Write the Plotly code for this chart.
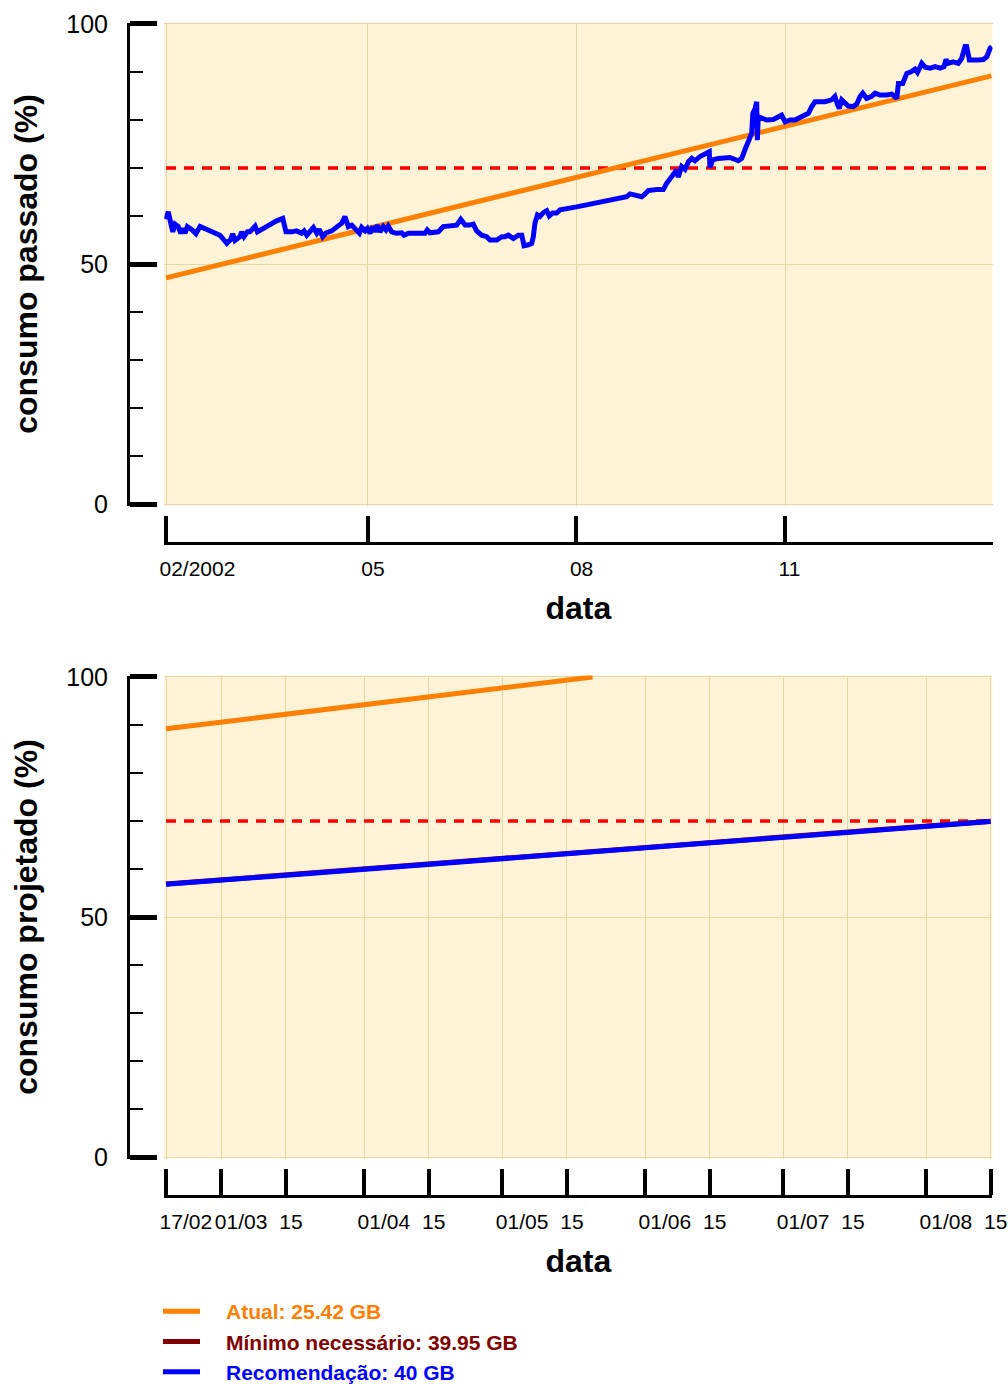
import pandas as pd
import plotly.graph_objects as go

W, H = 1008, 1385
FONT = "Liberation Sans, Arial, Helvetica, sans-serif"

# ---------------- data: past consumption (top chart) ----------------
past_start = "2002-02-01"
past_day = [0, 1.0, 2.1, 3.0, 4.0, 5.4, 6.5, 7.4, 8.4, 9.4, 11.3, 13.2, 15.0, 19.4, 23.8,
            26.8, 28.5, 29.4, 30.4, 32.6, 33.4, 34.4, 35.9, 37.0, 39.3, 40.3, 42.2, 44.4,
            46.6, 48.8, 51.5, 52.9, 55.4, 57.6, 59.8, 60.9, 62.1, 63.5, 65.0, 66.5, 67.6,
            69.1, 70.6, 73.1, 74.5, 75.3, 77.5, 78.9, 80.4, 81.9, 83.8, 85.3, 86.3, 87.8,
            88.8, 90.0, 91.2, 92.2, 93.2, 94.4, 95.8, 97.0, 98.0, 99.5, 101.7, 104.0, 105.0,
            106.9, 114.2, 115.2, 116.4, 120.1, 122.3, 126.7, 128.2, 130.0, 131.9, 133.8,
            135.5, 137.0, 139.2, 141.4, 142.9, 145.9, 148.1, 149.5, 151.0, 153.2, 155.4,
            156.9, 157.9, 159.8, 161.3, 162.0, 162.7, 163.8, 164.9, 166.4, 167.9, 169.0,
            170.5, 172.3, 173.8, 181.1, 191.4, 203.2, 204.6, 206.8, 209.8, 211.3, 212.7,
            216.4, 219.3, 220.8, 222.3, 223.7, 225.2, 225.9, 227.4, 228.9, 230.4, 231.9,
            233.3, 235.5, 237.0, 238.5, 239.6, 239.9, 241.1, 243.6, 246.5, 248.7, 252.4,
            253.9, 255.4, 256.8, 258.3, 258.8, 259.8, 260.5, 260.8, 261.2, 262.7, 264.9,
            267.8, 270.0, 271.5, 273.0, 275.2, 277.4, 278.9, 281.1, 283.3, 284.8, 286.2,
            288.4, 290.6, 293.6, 295.0, 296.1, 296.9, 298.0, 299.5, 300.9, 303.1, 304.6,
            306.1, 307.3, 309.0, 311.2, 312.7, 314.9, 317.9, 320.1, 322.3, 323.0, 324.9,
            326.7, 328.4, 330.3, 331.4, 333.3, 334.8, 337.0, 339.2, 341.4, 343.1, 344.0,
            345.0, 347.2, 349.4, 350.9, 352.4, 353.1, 354.3, 356.0, 358.2, 360.5, 362.0,
            363.4, 364.2]
past_recomendacao = [59.3, 60.9, 58.5, 56.7, 58.3, 57.8, 56.4, 57.4, 56.4, 57.8, 57.2, 56.3,
                     57.8, 56.9, 56.0, 54.3, 55.1, 56.3, 54.9, 55.7, 56.7, 55.7, 56.7, 56.7,
                     57.9, 56.7, 57.2, 57.8, 58.6, 59.0, 59.5, 56.7, 56.7, 56.9, 56.4, 56.9,
                     56.0, 56.7, 57.6, 56.4, 57.2, 55.7, 56.5, 56.9, 57.4, 57.9, 58.5, 59.9,
                     57.8, 58.1, 57.1, 56.4, 57.6, 56.9, 57.4, 56.4, 57.8, 56.7, 58.1, 56.7,
                     57.8, 57.1, 57.9, 56.7, 56.4, 56.5, 56.0, 56.4, 56.4, 57.1, 56.5, 56.7,
                     57.8, 57.9, 58.1, 59.3, 58.1, 58.1, 58.3, 56.9, 56.0, 55.7, 55.0, 55.0,
                     55.7, 55.7, 56.0, 55.3, 56.0, 56.0, 53.8, 54.0, 54.3, 55.7, 58.5, 60.2,
                     59.9, 60.7, 61.1, 60.0, 60.6, 60.6, 61.3, 61.9, 62.9, 64.0, 64.6, 64.4,
                     64.0, 64.6, 65.3, 65.5, 65.5, 66.8, 67.8, 68.5, 69.6, 68.1, 70.3, 69.7,
                     71.3, 72.0, 71.5, 72.4, 72.7, 72.9, 73.4, 70.1, 71.7, 72.0, 72.0, 72.2,
                     71.5, 72.0, 73.9, 75.5, 77.2, 81.4, 82.4, 83.8, 75.8, 80.7, 80.3, 80.0,
                     80.1, 80.6, 81.0, 79.6, 80.0, 80.0, 80.3, 80.7, 81.4, 82.8, 83.8, 83.8,
                     83.8, 84.2, 84.9, 83.3, 82.4, 84.2, 83.6, 82.9, 82.8, 83.3, 84.9, 85.6,
                     84.5, 84.9, 85.6, 85.2, 85.2, 85.4, 84.5, 87.6, 87.6, 89.7, 90.0, 90.6,
                     89.9, 91.8, 91.0, 90.8, 91.1, 90.8, 91.1, 92.6, 91.8, 92.1, 91.8, 92.8,
                     95.3, 95.3, 92.5, 92.6, 92.5, 92.6, 93.2, 94.9, 95.3]
past_atual_dates = ["2002-02-01", "2003-01-31"]
past_atual = [47.1, 89.2]
limite = 70
past_limit_dates = ["2002-02-01", "2003-01-31"]
past_range = ["2002-01-31 06:00", "2003-01-31 12:00"]
past_tickvals = ["2002-02-01", "2002-05-01", "2002-08-01", "2002-11-01"]
past_ticktext = ["02/2002", "05", "08", "11"]

# ---------------- data: projected consumption (bottom chart) ----------------
proj_atual_dates = ["2003-02-17", "2003-05-20 14:00"]
proj_atual = [89.2, 100.0]
proj_dates = ["2003-02-17", "2003-08-15"]
proj_minimo = [56.87, 69.97]
proj_recomendacao = [56.8, 69.9]
proj_range = ["2003-02-16 15:00", "2003-08-15 09:00"]
proj_tickvals = ["2003-02-17", "2003-03-01", "2003-03-15", "2003-04-01", "2003-04-15",
                 "2003-05-01", "2003-05-15", "2003-06-01", "2003-06-15", "2003-07-01",
                 "2003-07-15", "2003-08-01", "2003-08-15"]
proj_ticktext = ["17/02", "01/03", "15", "01/04", "15", "01/05", "15", "01/06", "15",
                 "01/07", "15", "01/08", "15"]

y_range = [-0.31, 100.31]
y_tickvals = [0, 50, 100]

legend_names = ["Atual: 25.42 GB", "Mínimo necessário: 39.95 GB", "Recomendação: 40 GB"]
ORANGE, DARKRED, BLUE, RED = "#FF8000", "#800000", "#0000FF", "#FF0000"

past_dates = pd.Timestamp(past_start) + pd.to_timedelta(past_day, unit="D")


def fx(px):
    return px / W


def fy(py):
    return 1 - py / H


def leg(name, color):
    return f'<span style="color:{color}"><b>\u2003{name}</b></span>'


fig = go.Figure()

# top chart
fig.add_trace(go.Scatter(x=past_limit_dates, y=[limite, limite], mode="lines",
                         line=dict(color=RED, width=3.5, dash="10px,8px"),
                         showlegend=False, xaxis="x", yaxis="y"))
fig.add_trace(go.Scatter(x=past_atual_dates, y=past_atual, mode="lines",
                         line=dict(color=ORANGE, width=5), name=leg(legend_names[0], ORANGE),
                         legendrank=1, xaxis="x", yaxis="y"))
fig.add_trace(go.Scatter(x=past_dates, y=past_recomendacao, mode="lines",
                         line=dict(color=BLUE, width=5), showlegend=False,
                         xaxis="x", yaxis="y"))

# bottom chart
fig.add_trace(go.Scatter(x=proj_dates, y=[limite, limite], mode="lines",
                         line=dict(color=RED, width=3.5, dash="10px,8px"),
                         showlegend=False, xaxis="x2", yaxis="y2"))
fig.add_trace(go.Scatter(x=proj_atual_dates, y=proj_atual, mode="lines",
                         line=dict(color=ORANGE, width=5), showlegend=False,
                         xaxis="x2", yaxis="y2"))
fig.add_trace(go.Scatter(x=proj_dates, y=proj_minimo, mode="lines",
                         line=dict(color=DARKRED, width=5), name=leg(legend_names[1], DARKRED),
                         legendrank=2, xaxis="x2", yaxis="y2"))
fig.add_trace(go.Scatter(x=proj_dates, y=proj_recomendacao, mode="lines",
                         line=dict(color=BLUE, width=5), name=leg(legend_names[2], BLUE),
                         legendrank=3, xaxis="x2", yaxis="y2"))

BG = "#FEF3D7"
GRID = "#E4D7A6"


def xaxis_style(pos_px, left_px, right_px, rng, tv, tt):
    return dict(
        domain=[fx(left_px), fx(right_px)], anchor="free", position=fy(pos_px),
        type="date", range=rng, tickvals=tv, ticktext=tt, tickangle=0,
        ticks="inside", ticklen=26, tickwidth=4, tickcolor="black",
        showline=True, linewidth=3, linecolor="black",
        showgrid=True, gridcolor=GRID, gridwidth=1, zeroline=False,
        tickfont=dict(size=21, color="black", family=FONT),
        ticklabelposition="outside right", ticklabelshift=-10, ticklabelstandoff=6,
        ticklabeloverflow="allow",
        title=dict(text="<b>data</b>", font=dict(size=32, color="black", family=FONT),
                   standoff=17),
        automargin=False, fixedrange=True,
    )


def yaxis_style(top_px, bot_px, title):
    return dict(
        domain=[fy(bot_px), fy(top_px)], anchor="free", position=fx(128),
        range=y_range, tickvals=y_tickvals,
        ticks="inside", ticklen=27, tickwidth=5, tickcolor="black",
        minor=dict(dtick=10, ticks="inside", ticklen=13, tickwidth=2, tickcolor="black",
                   showgrid=False),
        showline=True, linewidth=3, linecolor="black",
        showgrid=True, gridcolor=GRID, gridwidth=1, zeroline=False,
        tickfont=dict(size=25, color="black", family=FONT), ticklabelstandoff=14,
        title=dict(text=f"<b>{title}</b>", font=dict(size=32, color="black", family=FONT),
                   standoff=18),
        automargin=False, fixedrange=True,
    )


fig.update_layout(
    width=W, height=H,
    margin=dict(l=0, r=0, t=0, b=0, autoexpand=False),
    paper_bgcolor="white", plot_bgcolor=BG,
    font=dict(family=FONT, color="black"),
    xaxis=xaxis_style(543, 164.3, 992.5, past_range, past_tickvals, past_ticktext),
    yaxis=yaxis_style(22.5, 505.5, "consumo passado (%)"),
    xaxis2=xaxis_style(1196, 164.3, 992.3, proj_range, proj_tickvals, proj_ticktext),
    yaxis2=yaxis_style(675.5, 1158.5, "consumo projetado (%)"),
    legend=dict(x=fx(158), y=fy(1291), xanchor="left", yanchor="top",
                orientation="v", bgcolor="rgba(0,0,0,0)", borderwidth=0,
                font=dict(size=21, family=FONT), itemwidth=37, tracegroupgap=0),
    showlegend=True,
    hovermode=False,
)

# the page's default body margin would shift the 1008x1385 figure; remove it
fig.write_html("out.html", config={"displayModeBar": False},
               post_script="document.body.style.margin='0';")
